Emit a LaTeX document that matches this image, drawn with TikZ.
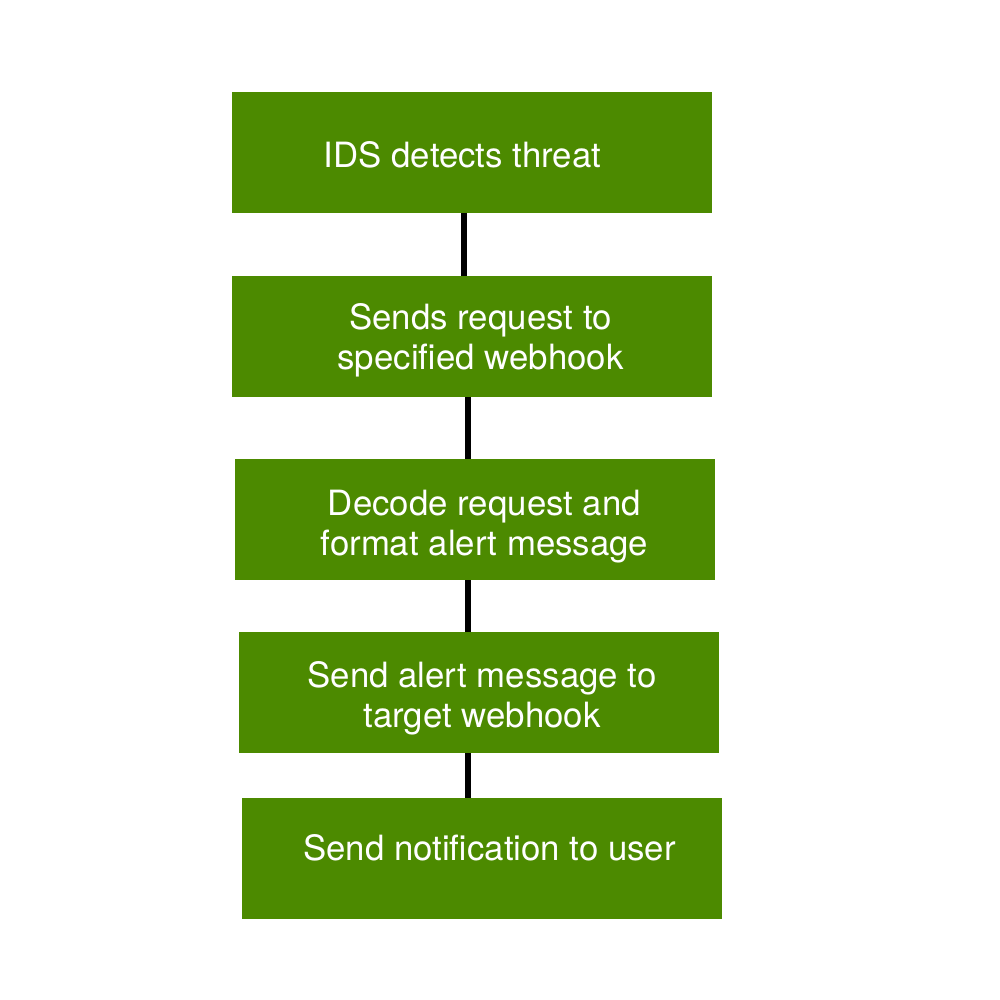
\documentclass[tikz,border=0pt]{standalone}
\usepackage{fontspec}
\setmainfont{TeX Gyre Heros}
\definecolor{boxgreen}{RGB}{76,138,0}
\begin{document}
\begin{tikzpicture}[x=1pt,y=-1pt,
  stepbox/.style={fill=boxgreen,draw=none,minimum width=480pt,minimum height=121pt,inner sep=0pt,outer sep=0pt},
  steptext/.style={text=white,font=\fontsize{34.8}{39.5}\selectfont,align=center,anchor=base,inner sep=0pt},
  conn/.style={line width=6pt,draw=black}]
\useasboundingbox (0,0) rectangle (1000,1000);
\node[stepbox] (b1) at (472,152.5) {};
\node[stepbox] (b2) at (472,336.5) {};
\node[stepbox] (b3) at (475,519.5) {};
\node[stepbox] (b4) at (479,692.5) {};
\node[stepbox] (b5) at (482,858.5) {};
\node[steptext] (t1) at (462.5,168) {IDS detects threat};
\node[steptext] (t2) at (480.5,369) {Sends request to\\specified webhook};
\node[steptext] (t3) at (484.5,555) {Decode request and\\format alert message};
\node[steptext] (t4) at (482,727) {Send alert message to\\target webhook};
\node[steptext] (t5) at (489.5,860) {Send notification to user};
\draw[conn] ([xshift=-8pt]b1.south) -- ([xshift=-8pt]b1.south |- b2.north);
\draw[conn] ([xshift=-4pt]b2.south) -- ([xshift=-4pt]b2.south |- b3.north);
\draw[conn] ([xshift=-7pt]b3.south) -- ([xshift=-7pt]b3.south |- b4.north);
\draw[conn] ([xshift=-11pt]b4.south) -- ([xshift=-11pt]b4.south |- b5.north);
\end{tikzpicture}
\end{document}
